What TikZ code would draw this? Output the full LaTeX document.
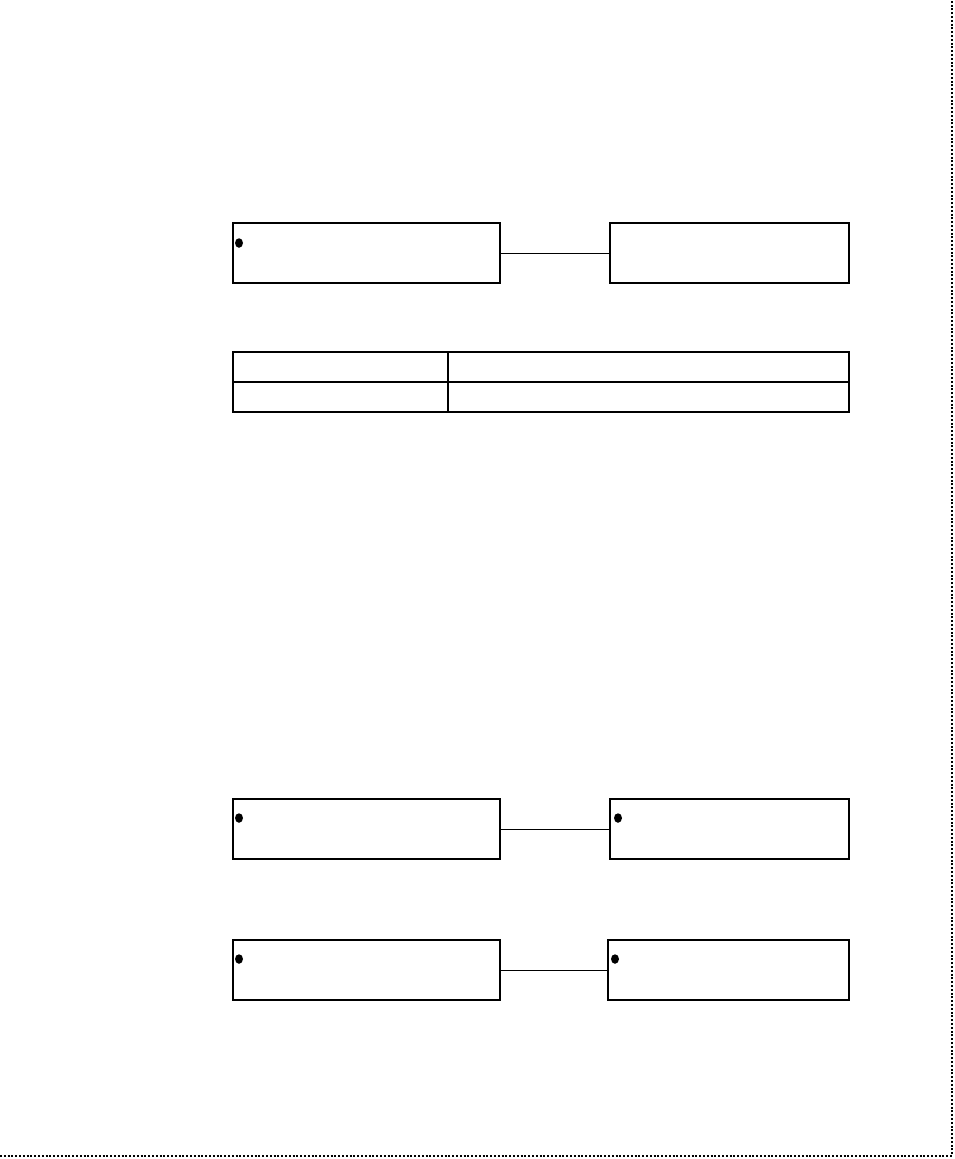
\documentclass[tikz,border=0pt]{standalone}
\usetikzlibrary{shapes.geometric}
\tikzset{
  boxnode/.style={draw, line width=1.5pt, anchor=north west, inner sep=0pt, outer sep=0pt, minimum height=60pt},
  cellnode/.style={draw, line width=1.5pt, anchor=north west, inner sep=0pt, outer sep=0pt, minimum height=30pt},
  bulletnode/.style={fill, draw=none, ellipse, minimum width=8pt, minimum height=9.5pt, inner sep=0pt},
  linkline/.style={line width=1pt},
  borderline/.style={line width=1.8pt, dash pattern=on 2pt off 1.8pt}
}
\begin{document}
\begin{tikzpicture}[x=1pt,y=-1pt]
\useasboundingbox (0,0) rectangle (954,1159);
% top pair
\node[boxnode, minimum width=267pt] (a1) at (233,223) {};
\node[boxnode, minimum width=239pt] (a2) at (610,223) {};
\node[bulletnode] (ba1) at ([shift={(6,20)}]a1.north west) {};
\draw[linkline] (a1.east) -- (a2.west);
% table
\node[cellnode, minimum width=215pt] (t11) at (233,352) {};
\node[cellnode, minimum width=401pt] (t12) at (448,352) {};
\node[cellnode, minimum width=215pt] (t21) at (233,382) {};
\node[cellnode, minimum width=401pt] (t22) at (448,382) {};
% lower pairs
\node[boxnode, minimum width=267pt] (c1) at (233,799) {};
\node[boxnode, minimum width=239pt] (c2) at (610,799) {};
\node[bulletnode] (bc1) at ([shift={(6,19)}]c1.north west) {};
\node[bulletnode] (bc2) at ([shift={(8,19)}]c2.north west) {};
\draw[linkline] (c1.east) -- (c2.west);
\node[boxnode, minimum width=267pt] (d1) at (233,940) {};
\node[boxnode, minimum width=241pt] (d2) at (608,940) {};
\node[bulletnode] (bd1) at ([shift={(6,19)}]d1.north west) {};
\node[bulletnode] (bd2) at ([shift={(7,19)}]d2.north west) {};
\draw[linkline] (d1.east) -- (d2.west);
% dotted page border
\coordinate (p0) at (0,1156);
\coordinate (p1) at (952,1156);
\coordinate (p2) at (952,0);
\draw[borderline] (p0) -- (p1) -- (p2);
\end{tikzpicture}
\end{document}
